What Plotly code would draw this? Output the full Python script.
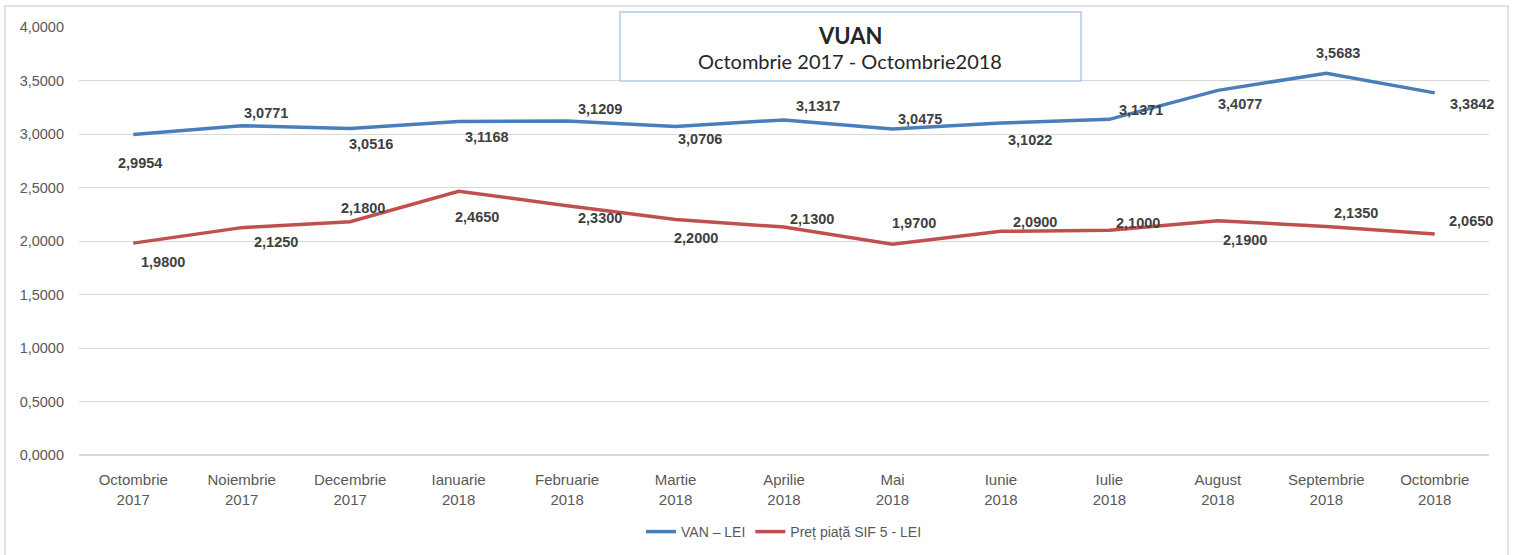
import plotly.graph_objects as go

months = ["Octombrie<br>2017", "Noiembrie<br>2017", "Decembrie<br>2017", "Ianuarie<br>2018",
          "Februarie<br>2018", "Martie<br>2018", "Aprilie<br>2018", "Mai<br>2018",
          "Iunie<br>2018", "Iulie<br>2018", "August<br>2018", "Septembrie<br>2018",
          "Octombrie<br>2018"]
van_lei = [2.9954, 3.0771, 3.0516, 3.1168, 3.1209, 3.0706, 3.1317, 3.0475,
           3.1022, 3.1371, 3.4077, 3.5683, 3.3842]
pret_piata = [1.9800, 2.1250, 2.1800, 2.4650, 2.3300, 2.2000, 2.1300, 1.9700,
              2.0900, 2.1000, 2.1900, 2.1350, 2.0650]
series_names = ["VAN – LEI", "Preț piață SIF 5 - LEI"]

# label offsets (px) — styling only
van_shift = [(7, -29), (24, 13), (21, -16), (28, -15), (33, 12), (24, -13), (34, 14), (28, 10),
             (29, -17), (32, 9), (22, -14), (12, 20), (37, -11)]
pret_shift = [(30, -19), (34, -14), (13, 14), (18, -26), (33, -12), (20, -18), (28, 8), (22, 21),
              (34, 9), (29, 7), (27, -19), (30, 14), (36, 13)]

blue = "#4a7ebb"
red = "#c0504d"

fig = go.Figure()
fig.add_trace(go.Scatter(x=months, y=van_lei, mode="lines", name=series_names[0],
                         line=dict(color=blue, width=3.5)))
fig.add_trace(go.Scatter(x=months, y=pret_piata, mode="lines", name=series_names[1],
                         line=dict(color=red, width=3.5)))

def fmt(v):
    return f"{v:.4f}".replace(".", ",")

for vals, shifts in ((van_lei, van_shift), (pret_piata, pret_shift)):
    for m, v, (dx, dy) in zip(months, vals, shifts):
        fig.add_annotation(x=m, y=v, text=f"<b>{fmt(v)}</b>", showarrow=False,
                           xshift=dx, yshift=dy,
                           font=dict(family="Liberation Sans", size=14.5, color="#404040"))

PW, PH, L, T = 1410, 428, 79, 27

def px(x):
    return (x - L) / PW

def py(y):
    return (T + PH - y) / PH

# title box
fig.add_shape(type="rect", xref="paper", yref="paper",
              x0=px(620), x1=px(1081), y0=py(81), y1=py(12),
              line=dict(color="#b4c7e7", width=1.5), fillcolor="white", layer="above")
fig.add_annotation(xref="paper", yref="paper", x=px(850), y=py(35),
                   xanchor="center", yanchor="middle",
                   text="<b>VUAN</b>", showarrow=False,
                   font=dict(family="Lato", size=22, color="#262626"))
fig.add_annotation(xref="paper", yref="paper", x=px(850), y=py(61),
                   xanchor="center", yanchor="middle",
                   text="Octombrie 2017 - Octombrie2018", showarrow=False,
                   font=dict(family="Lato", size=20, color="#262626"))

# outer chart border
fig.add_shape(type="rect", xref="paper", yref="paper",
              x0=px(5), x1=px(1508), y0=py(560), y1=py(6),
              line=dict(color="#d9d9d9", width=1.5), layer="below")

fig.update_layout(
    width=1515, height=555,
    margin=dict(l=L, r=1515 - L - PW, t=T, b=555 - T - PH, autoexpand=False),
    paper_bgcolor="white", plot_bgcolor="white",
    separators=",.",
    font=dict(family="Liberation Sans", size=14, color="#595959"),
    showlegend=True,
    legend=dict(orientation="h", x=0.5, xanchor="center", y=py(532), yanchor="middle",
                font=dict(family="Liberation Sans", size=14, color="#595959")),
)
fig.update_xaxes(range=[-0.5, 12.5], showgrid=False, showline=False, ticks="",
                 ticklabelstandoff=14, tickfont=dict(size=15, color="#595959"))
fig.update_yaxes(range=[0, 4], dtick=0.5, tickformat=".4f", showgrid=True,
                 gridcolor="#d9d9d9", gridwidth=1, zeroline=True, zerolinecolor="#d9d9d9",
                 showline=False, ticks="", ticklabelstandoff=14,
                 tickfont=dict(size=14.5, color="#595959"))

fig.write_html("out.html", config={"displayModeBar": False},
               post_script="document.body.style.margin='0px';document.body.style.overflow='hidden';")
